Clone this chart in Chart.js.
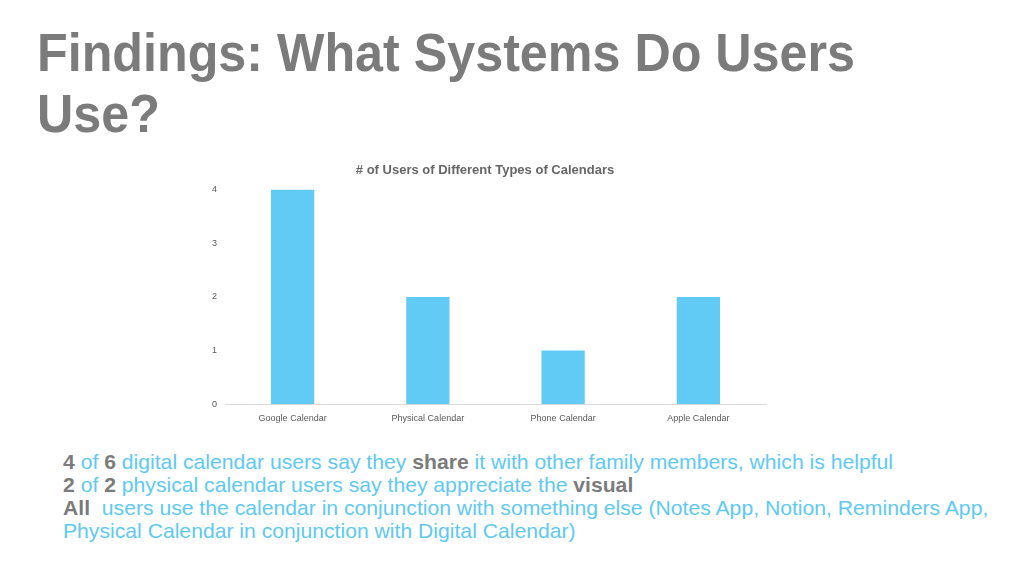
<!DOCTYPE html>
<html>
<head>
<meta charset="utf-8">
<script src="https://cdn.jsdelivr.net/npm/chart.js@4"></script>
<style>
  body { margin: 0; width: 1024px; height: 576px; background: #fff; overflow: hidden; position: relative;
         font-family: "Liberation Sans", sans-serif; }
  #title { position: absolute; left: 37px; top: 22px; margin: 0; font-size: 54px; line-height: 61px;
           font-weight: bold; color: #7b7b7b; transform-origin: 0 0; white-space: nowrap; }
  #wrap { position: absolute; left: 190px; top: 155px; width: 590px; height: 278px; }
  #notes { position: absolute; left: 63px; top: 450px; font-size: 21px; line-height: 23px; color: #5ec9f3;
           transform-origin: 0 0; white-space: nowrap; }
  #notes b { color: #7b7b7b; }
  #notes span { display: inline-block; }
</style>
</head>
<body>
<h1 id="title"><span id="t1">Findings: What Systems Do Users</span><br>Use?</h1>
<div id="wrap"><canvas id="chart"></canvas></div>
<div id="notes">
  <div><span id="n1"><b>4</b> of <b>6</b> digital calendar users say they <b>share</b> it with other family members, which is helpful</span></div>
  <div><b>2</b> of <b>2</b> physical calendar users say they appreciate the <b>visual</b></div>
  <div><b>All</b>&nbsp; users use the calendar in conjunction with something else (Notes App, Notion, Reminders App,</div>
  <div>Physical Calendar in conjunction with Digital Calendar)</div>
</div>
<script>
// squeeze the text blocks to the narrow widths of the slide font
function fitWidth(block, line, target) {
    var w = document.getElementById(line).getBoundingClientRect().width;
    document.getElementById(block).style.transform = 'scaleX(' + (target / w) + ')';
}
fitWidth('title', 't1', 818);
fitWidth('notes', 'n1', 830);

var calendars = ['Google Calendar', 'Physical Calendar', 'Phone Calendar', 'Apple Calendar'];
var userCounts = [4, 2, 1, 2];
var yTicks = [0, 1, 2, 3, 4];

var chart = new Chart(document.getElementById('chart'), {
    type: 'bar',
    data: {
        labels: calendars,
        datasets: [{
            data: userCounts,
            backgroundColor: '#62cbf5',
            categoryPercentage: 1,
            barPercentage: 0.32
        }]
    },
    options: {
        responsive: true,
        maintainAspectRatio: false,
        animation: false,
        layout: { padding: { left: 14, right: 14, top: 0, bottom: 0 } },
        plugins: {
            legend: { display: false },
            tooltip: { enabled: false },
            title: {
                display: true,
                text: '# of Users of Different Types of Calendars',
                color: '#666666',
                font: { family: 'Liberation Sans', size: 13, weight: 'bold' },
                padding: { top: 8, bottom: 11 }
            }
        },
        scales: {
            x: {
                grid: { display: false, drawTicks: false },
                border: { color: '#d9d9d9' },
                ticks: { color: '#595959', font: { family: 'Liberation Sans', size: 9 }, padding: 9 }
            },
            y: {
                min: 0, max: 4,
                afterBuildTicks: function(axis) { axis.ticks = yTicks.map(function(v) { return { value: v }; }); },
                grid: { display: false, drawTicks: false },
                border: { display: false },
                ticks: { color: '#595959', font: { family: 'Liberation Sans', size: 9 }, padding: 8 }
            }
        }
    }
});
</script>
</body>
</html>
